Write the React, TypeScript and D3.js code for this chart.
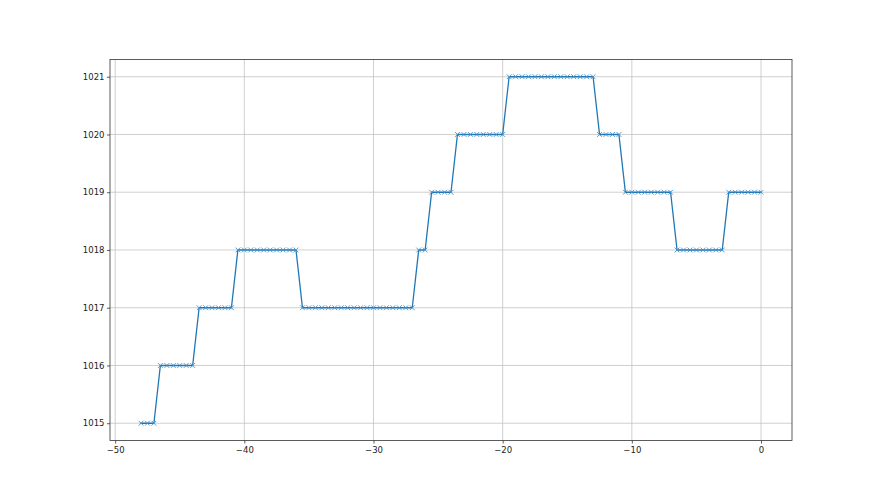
import React, { useEffect, useRef } from "react";
import * as d3 from "d3";

// hours relative to now (x) and pressure readings in hPa (y)
const hours = [
  -48, -47.5, -47, -46.5, -46, -45.5, -45, -44.5, -44, -43.5,
  -43, -42.5, -42, -41.5, -41, -40.5, -40, -39.5, -39, -38.5,
  -38, -37.5, -37, -36.5, -36, -35.5, -35, -34.5, -34, -33.5,
  -33, -32.5, -32, -31.5, -31, -30.5, -30, -29.5, -29, -28.5,
  -28, -27.5, -27, -26.5, -26, -25.5, -25, -24.5, -24, -23.5,
  -23, -22.5, -22, -21.5, -21, -20.5, -20, -19.5, -19, -18.5,
  -18, -17.5, -17, -16.5, -16, -15.5, -15, -14.5, -14, -13.5,
  -13, -12.5, -12, -11.5, -11, -10.5, -10, -9.5, -9, -8.5,
  -8, -7.5, -7, -6.5, -6, -5.5, -5, -4.5, -4, -3.5,
  -3, -2.5, -2, -1.5, -1, -0.5, 0,
];

const pressure = [
  1015, 1015, 1015, 1016, 1016, 1016, 1016, 1016, 1016, 1017,
  1017, 1017, 1017, 1017, 1017, 1018, 1018, 1018, 1018, 1018,
  1018, 1018, 1018, 1018, 1018, 1017, 1017, 1017, 1017, 1017,
  1017, 1017, 1017, 1017, 1017, 1017, 1017, 1017, 1017, 1017,
  1017, 1017, 1017, 1018, 1018, 1019, 1019, 1019, 1019, 1020,
  1020, 1020, 1020, 1020, 1020, 1020, 1020, 1021, 1021, 1021,
  1021, 1021, 1021, 1021, 1021, 1021, 1021, 1021, 1021, 1021,
  1021, 1020, 1020, 1020, 1020, 1019, 1019, 1019, 1019, 1019,
  1019, 1019, 1019, 1018, 1018, 1018, 1018, 1018, 1018, 1018,
  1018, 1019, 1019, 1019, 1019, 1019, 1019,
];

const xTicks = [-50, -40, -30, -20, -10, 0];
const yTicks = [1015, 1016, 1017, 1018, 1019, 1020, 1021];

const W = 880;
const H = 495;

function App() {
  const ref = useRef<SVGSVGElement>(null);

  useEffect(() => {
    const svg = d3.select(ref.current);
    svg.selectAll("*").remove();

    const left = 110, right = 792, top = 59.4, bottom = 440.55;
    const data = hours.map((h, i) => ({ h, p: pressure[i] }));

    // matplotlib style 5% margins
    const [x0, x1] = d3.extent(hours) as [number, number];
    const [y0, y1] = d3.extent(pressure) as [number, number];
    const mx = (x1 - x0) * 0.05;
    const my = (y1 - y0) * 0.05;

    const x = d3.scaleLinear().domain([x0 - mx, x1 + mx]).range([left, right]);
    const y = d3.scaleLinear().domain([y0 - my, y1 + my]).range([bottom, top]);

    const fmt = (v: number) => String(v).replace("-", "\u2212");

    // grid
    const grid = svg.append("g").attr("stroke", "#c4c4c4").attr("stroke-width", 0.8);
    xTicks.forEach((t) => {
      grid.append("line").attr("x1", x(t)).attr("x2", x(t)).attr("y1", top).attr("y2", bottom);
    });
    yTicks.forEach((t) => {
      grid.append("line").attr("x1", left).attr("x2", right).attr("y1", y(t)).attr("y2", y(t));
    });

    // line
    const line = d3.line<{ h: number; p: number }>()
      .x((d) => x(d.h))
      .y((d) => y(d.p));

    svg.append("path")
      .datum(data)
      .attr("d", line)
      .attr("fill", "none")
      .attr("stroke", "#1f77b4")
      .attr("stroke-width", 1.3)
      .attr("stroke-linejoin", "round")
      .attr("stroke-linecap", "square");

    // x markers
    const s = 2.4;
    svg.append("g")
      .selectAll("path")
      .data(data)
      .enter()
      .append("path")
      .attr("d", (d) => {
        const cx = x(d.h), cy = y(d.p);
        return `M${cx - s},${cy - s}L${cx + s},${cy + s}M${cx - s},${cy + s}L${cx + s},${cy - s}`;
      })
      .attr("stroke", "#4a90c8")
      .attr("stroke-width", 0.9);

    // spines
    svg.append("rect")
      .attr("x", left).attr("y", top)
      .attr("width", right - left).attr("height", bottom - top)
      .attr("fill", "none").attr("stroke", "#333").attr("stroke-width", 0.8);

    // x axis
    const xa = svg.append("g")
      .attr("transform", `translate(0,${bottom})`)
      .call(d3.axisBottom(x).tickValues(xTicks).tickSize(3).tickPadding(3).tickFormat((d) => fmt(d as number)));
    xa.select(".domain").remove();

    const ya = svg.append("g")
      .attr("transform", `translate(${left},0)`)
      .call(d3.axisLeft(y).tickValues(yTicks).tickSize(3).tickPadding(2.5).tickFormat((d) => String(d)));
    ya.select(".domain").remove();

    svg.selectAll(".tick line").attr("stroke", "#333").attr("stroke-width", 0.8);
    svg.selectAll(".tick text")
      .attr("fill", "#222")
      .style("font-family", "DejaVu Sans")
      .style("font-size", "8.5px");
  }, []);

  return (
    <svg
      ref={ref}
      width={W}
      height={H}
      style={{ position: "absolute", left: 0, top: 0, background: "#fff" }}
    />
  );
}

export default App;
